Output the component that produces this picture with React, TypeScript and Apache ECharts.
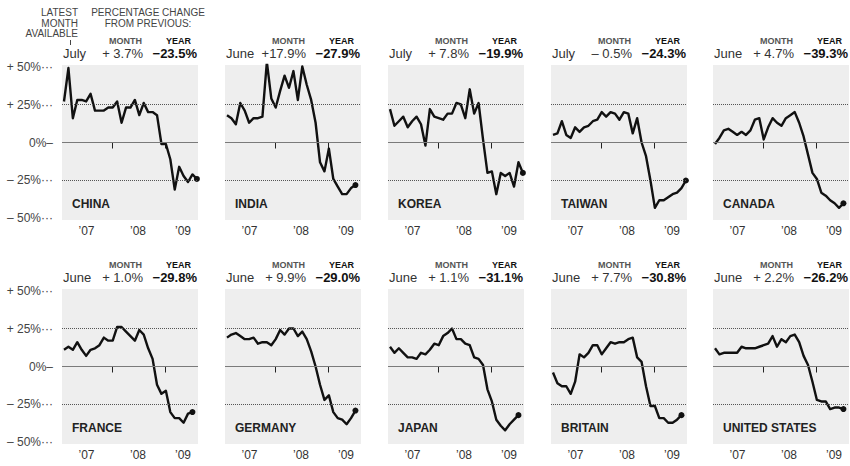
import React, { useEffect, useRef } from "react";
import * as echarts from "echarts";

// ---------- data ----------
const countries = ["CHINA", "INDIA", "KOREA", "TAIWAN", "CANADA", "FRANCE", "GERMANY", "JAPAN", "BRITAIN", "UNITED STATES"];
const latestMonths = ["July", "June", "July", "July", "June", "June", "June", "June", "June", "June"];
const monthChange = [3.7, 17.9, 7.8, -0.5, 4.7, 1.0, 9.9, 1.1, 7.7, 2.2];
const yearChange = [-23.5, -27.9, -19.9, -24.3, -39.3, -29.8, -29.0, -31.1, -30.8, -26.2];

// monthly year-over-year % change, starting Jan 2007
const chinaValues = [27, 49, 16, 28, 28, 27, 32, 21, 21, 21, 23, 23, 27, 13, 23, 23, 28, 18, 26, 20, 20, 18, -1, -1, -11, -31, -16, -22, -26, -21, -24];
const indiaValues = [18, 16, 12, 26, 21, 13, 16, 16, 17, 53, 29, 23, 34, 44, 36, 47, 28, 50, 38, 28, 13, -13, -19, -4, -24, -29, -34, -34, -30, -28];
const koreaValues = [22, 11, 14, 17, 10, 14, 17, 12, -2, 22, 17, 16, 15, 19, 19, 26, 25, 16, 35, 19, 26, 2, -20, -19, -34, -20, -22, -20, -29, -13, -20];
const taiwanValues = [5, 6, 14, 5, 3, 10, 7, 10, 11, 14, 15, 20, 17, 20, 19, 15, 20, 19, 6, 16, 0, -9, -25, -43, -38, -38, -36, -34, -33, -30, -25];
const canadaValues = [-1, 3, 8, 9, 7, 5, 7, 5, 8, 15, 16, 2, 10, 16, 13, 11, 16, 18, 20, 13, 4, -8, -20, -24, -33, -35, -38, -40, -43, -40];
const franceValues = [11, 13, 11, 16, 11, 7, 11, 12, 14, 19, 17, 17, 26, 26, 23, 20, 17, 24, 21, 12, 5, -12, -18, -16, -30, -34, -34, -37, -31, -30];
const germanyValues = [19, 21, 22, 20, 18, 18, 19, 15, 16, 16, 14, 18, 24, 21, 25, 25, 20, 23, 18, 10, 0, -12, -22, -19, -30, -34, -35, -38, -34, -29];
const japanValues = [13, 9, 12, 9, 6, 6, 5, 9, 8, 11, 15, 14, 20, 22, 25, 18, 18, 15, 14, 6, 5, 1, -15, -23, -35, -39, -42, -38, -35, -32];
const britainValues = [-4, -11, -13, -13, -18, -10, 8, 6, 9, 14, 14, 8, 12, 16, 15, 16, 16, 18, 19, 6, 3, -13, -26, -26, -34, -34, -37, -37, -35, -32];
const usValues = [12, 8, 9, 9, 9, 9, 13, 12, 12, 12, 13, 14, 15, 20, 13, 18, 16, 20, 21, 16, 7, 1, -10, -22, -23, -23, -28, -27, -27, -28];

const panelValues = [chinaValues, indiaValues, koreaValues, taiwanValues, canadaValues, franceValues, germanyValues, japanValues, britainValues, usValues];

const yTickValues = [50, 25, 0, -25, -50];
const yTickLabels = ["+ 50%···", "+ 25%···", "0%–", "– 25%···", "– 50%···"];
const yearTickLabels = ["’07", "’08", "’09"];
const yearLabelPos = [5.08, 16.7, 26.86];
const yearBoundaryPos = [11, 22.75];

// ---------- layout ----------
const COL_X = [62, 225, 388, 551, 713];
const ROW_DY = [0, 224];
const PANEL_W = 136;
const GRID_TOP = 65;
const GRID_H = 155;
const FONT = '"Liberation Sans", Arial, Helvetica, sans-serif';

function fmtMonth(v: number) {
  const sign = v < 0 ? "–" : "+";
  const a = Math.abs(v).toFixed(1) + "%";
  return a.length >= 5 ? sign + a : sign + " " + a;
}
function fmtYear(v: number) {
  return (v < 0 ? "−" : "+") + Math.abs(v).toFixed(1) + "%";
}
function nearestLabel(v: number, pos: number[], labels: string[]) {
  let best = 0;
  for (let i = 1; i < pos.length; i++) if (Math.abs(pos[i] - v) < Math.abs(pos[best] - v)) best = i;
  return labels[best];
}

function buildOption() {
  const grid: any[] = [];
  const xAxis: any[] = [];
  const yAxis: any[] = [];
  const series: any[] = [];
  const graphic: any[] = [];

  const txt = (x: number, y: number, text: string, o: any = {}) => ({
    type: "text",
    x,
    y,
    silent: true,
    style: {
      text,
      fill: o.fill || "#222",
      fontSize: o.fontSize || 12,
      fontWeight: o.fontWeight || "normal",
      fontFamily: FONT,
      align: o.align || "left",
      verticalAlign: "middle",
    },
  });

  // top-left caption
  graphic.push(txt(78, 12, "LATEST", { align: "right", fontSize: 10, fill: "#444" }));
  graphic.push(txt(78, 23, "MONTH", { align: "right", fontSize: 10, fill: "#444" }));
  graphic.push(txt(78, 33.5, "AVAILABLE", { align: "right", fontSize: 10, fill: "#444" }));
  graphic.push({ type: "line", silent: true, shape: { x1: 70.5, y1: 40, x2: 70.5, y2: 45 }, style: { stroke: "#444", lineWidth: 1 } });
  graphic.push(txt(148, 12, "PERCENTAGE CHANGE", { align: "center", fontSize: 10, fill: "#444" }));
  graphic.push(txt(148, 23, "FROM PREVIOUS:", { align: "center", fontSize: 10, fill: "#444" }));

  panelValues.forEach((vals, k) => {
    const col = k % 5;
    const row = Math.floor(k / 5);
    const L = COL_X[col];
    const dy = ROW_DY[row];

    grid.push({
      left: L,
      top: GRID_TOP + dy,
      width: PANEL_W,
      height: GRID_H,
      show: true,
      backgroundColor: "#eeeeee",
      borderWidth: 0,
    });
    xAxis.push({
      type: "value",
      gridIndex: k,
      min: -0.45,
      max: 30.25,
      axisLine: { show: false },
      splitLine: { show: false },
      axisTick: { show: true, customValues: yearBoundaryPos, length: 6, lineStyle: { color: "#222", width: 1 } },
      axisLabel: {
        customValues: yearLabelPos,
        formatter: (v: number) => nearestLabel(v, yearLabelPos, yearTickLabels),
        margin: 5,
        fontSize: 12,
        color: "#333",
        fontFamily: FONT,
      },
    });
    yAxis.push({
      type: "value",
      gridIndex: k,
      min: -51,
      max: 51,
      axisLine: { show: false },
      axisTick: { show: false },
      splitLine: { show: false },
      axisLabel: {
        show: col === 0,
        customValues: yTickValues,
        formatter: (v: number) => nearestLabel(v, yTickValues, yTickLabels),
        margin: 9,
        fontSize: 12,
        color: "#444",
        fontFamily: FONT,
      },
    });

    // reference lines
    series.push({
      type: "line",
      xAxisIndex: k,
      yAxisIndex: k,
      data: [],
      z: 1,
      silent: true,
      markLine: {
        silent: true,
        symbol: ["none", "none"],
        label: { show: false },
        data: [
          { yAxis: 25, lineStyle: { type: "dotted", color: "#555", width: 1 } },
          { yAxis: -25, lineStyle: { type: "dotted", color: "#555", width: 1 } },
          { yAxis: 0, lineStyle: { type: "solid", color: "#7a7a7a", width: 1.2 } },
        ],
      },
    });
    series.push({
      type: "line",
      xAxisIndex: k,
      yAxisIndex: k,
      data: vals.map((v, i) => [i, v]),
      symbol: "none",
      z: 3,
      lineStyle: { color: "#111", width: 2.4, join: "round" },
    });
    series.push({
      type: "scatter",
      xAxisIndex: k,
      yAxisIndex: k,
      data: [[vals.length - 1, vals[vals.length - 1]]],
      symbolSize: 6,
      z: 4,
      itemStyle: { color: "#111", opacity: 1 },
    });

    // headers
    graphic.push(txt(L + 80, 40.5 + dy, "MONTH", { align: "right", fontSize: 9, fontWeight: "bold", fill: "#555" }));
    graphic.push(txt(L + 129, 40.5 + dy, "YEAR", { align: "right", fontSize: 9, fontWeight: "bold", fill: "#111" }));
    graphic.push(txt(L + 1, 53 + dy, latestMonths[k], { fontSize: 13, fill: "#333" }));
    graphic.push(txt(L + 81, 53 + dy, fmtMonth(monthChange[k]), { align: "right", fontSize: 13, fill: "#333" }));
    graphic.push(txt(L + 135, 53 + dy, fmtYear(yearChange[k]), { align: "right", fontSize: 13, fontWeight: "bold", fill: "#111" }));
    // country name
    graphic.push(txt(L + 10, 204 + dy, countries[k], { fontSize: 12, fontWeight: "bold", fill: "#222" }));
  });

  return {
    animation: false,
    backgroundColor: "#ffffff",
    grid,
    xAxis,
    yAxis,
    series,
    graphic,
  };
}

export default function App() {
  const ref = useRef<HTMLDivElement>(null);
  useEffect(() => {
    if (!ref.current) return;
    const chart = echarts.init(ref.current, undefined, { renderer: "svg" });
    chart.setOption(buildOption() as any);
    return () => chart.dispose();
  }, []);
  return <div ref={ref} style={{ position: "fixed", left: 0, top: 0, width: 850, height: 466 }} />;
}
